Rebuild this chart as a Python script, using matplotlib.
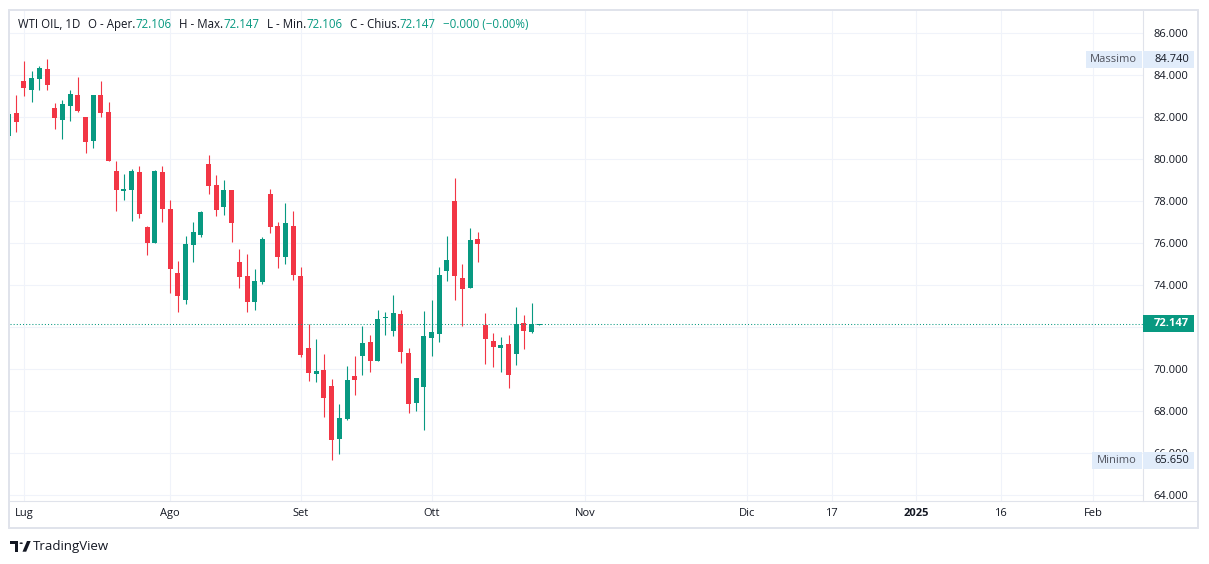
import numpy as np
import matplotlib.pyplot as plt
from matplotlib.patches import Rectangle, Circle, Polygon
from matplotlib.lines import Line2D
from matplotlib.transforms import blended_transform_factory, Bbox

# daily candles, WTI OIL 1D
opens = [81.11, 82.19, 83.71, 83.30, 83.82, 84.29, 82.43, 81.87, 82.54, 83.05,
         82.00, 80.87, 83.05, 82.24, 79.43, 78.49, 78.54, 79.38, 76.76, 76.01,
         79.38, 77.62, 74.57, 73.30, 75.92, 76.40, 79.76, 78.76, 77.73, 78.52,
         75.11, 74.43, 73.21, 74.16, 78.33, 76.81, 75.35, 76.81, 74.43, 71.00,
         69.78, 69.95, 69.19, 66.68, 67.63, 69.67, 70.62, 71.29, 70.38, 72.44,
         71.81, 72.62, 70.76, 68.38, 69.14, 71.48, 71.67, 74.67, 78.00, 74.33,
         73.86, 76.19, 72.10, 71.33, 71.01, 71.19, 70.71, 72.19, 71.76, 72.106]
highs = [82.30, 83.05, 84.67, 84.19, 84.43, 84.74, 82.67, 82.81, 83.29, 83.90,
         82.00, 83.05, 83.71, 82.71, 79.90, 79.29, 79.52, 79.67, 76.81, 79.48,
         79.67, 78.05, 75.14, 76.33, 77.00, 77.52, 80.19, 79.24, 79.00, 78.52,
         75.71, 75.48, 74.76, 76.29, 78.57, 77.00, 77.90, 77.52, 74.86, 72.14,
         71.43, 70.71, 69.52, 68.33, 70.14, 70.62, 72.05, 71.62, 72.81, 72.71,
         73.52, 72.81, 71.00, 69.57, 72.76, 73.29, 74.86, 76.33, 79.10, 75.00,
         76.71, 76.52, 72.67, 71.71, 71.52, 71.62, 72.95, 72.57, 73.14, 72.147]
lows = [80.95, 81.30, 83.02, 82.73, 83.30, 83.30, 81.44, 80.97, 81.82, 82.25,
        80.30, 80.54, 82.02, 79.92, 77.54, 78.05, 77.05, 77.21, 75.43, 76.01,
        77.02, 73.63, 72.73, 73.11, 75.11, 76.30, 78.33, 77.30, 77.35, 76.06,
        73.87, 72.73, 72.83, 74.06, 76.49, 74.82, 75.01, 74.25, 70.59, 69.43,
        69.38, 67.73, 65.65, 65.97, 67.59, 68.78, 69.71, 69.86, 70.38, 71.62,
        71.57, 70.29, 67.90, 68.00, 67.10, 70.62, 71.29, 74.19, 73.29, 72.05,
        73.86, 75.10, 70.24, 70.10, 69.86, 69.10, 70.19, 70.95, 71.71, 72.106]
closes = [82.14, 81.78, 83.40, 83.86, 84.33, 83.54, 81.97, 82.62, 83.10, 82.30,
          80.83, 83.05, 82.21, 79.92, 78.54, 78.57, 79.43, 77.40, 76.01, 79.43,
          77.63, 74.78, 73.49, 75.95, 76.52, 77.48, 78.73, 77.59, 78.52, 76.97,
          74.40, 73.17, 74.19, 76.19, 76.78, 75.35, 76.95, 74.49, 70.68, 69.82,
          69.90, 68.63, 66.63, 67.67, 69.48, 69.48, 71.24, 70.38, 72.38, 72.48,
          72.67, 70.81, 68.33, 69.57, 71.57, 71.76, 74.48, 75.19, 74.43, 73.81,
          76.14, 75.95, 71.43, 71.05, 71.14, 69.71, 72.14, 71.81, 72.14, 72.147]

time_ticks = [2, 21, 38, 55, 75, 96, 107, 118, 129, 141]
time_labels = ['Lug', 'Ago', 'Set', 'Ott', 'Nov', 'Dic', '17', '2025', '16', 'Feb']
price_ticks = [64, 66, 68, 70, 72, 74, 76, 78, 80, 82, 84, 86]
last_price = 72.147
max_price = 84.740
min_price = 65.650

UP = '#089981'
DOWN = '#f23645'
TXT = '#131722'
GRID = '#f0f3fa'
BORDER = '#e0e3eb'
TAG = '#e1ecfa'

plt.rcParams['font.family'] = ['Open Sans', 'DejaVu Sans']

W, H = 1209, 564
fig = plt.figure(figsize=(W / 100, H / 100), dpi=100)
fig.patch.set_facecolor('white')


def fx(px):
    return px / W


def fy(py):
    return 1 - py / H


ax = fig.add_axes([fx(10), fy(501), (1143 - 10) / W, (501 - 10) / H])
ax.set_facecolor('white')

x = np.arange(len(opens))
o = np.array(opens)
c = np.array(closes)
cols = [UP if cc >= oo else DOWN for oo, cc in zip(o, c)]

ax.vlines(x, lows, highs, colors=cols, lw=0.8, zorder=2)
ax.bar(x, np.maximum(np.abs(c - o), 0.05), bottom=np.minimum(o, c),
       width=0.65, color=cols, lw=0, zorder=3)

ax.axhline(last_price, color=UP, lw=0.75, linestyle=(0, (1, 2)), zorder=4)

ax.set_xlim(0.18, 147.5)
ax.set_ylim(63.714, 87.095)

ax.set_xticks(time_ticks, time_labels)
ax.set_yticks(price_ticks, ['' if p == 72 else '%.3f' % p for p in price_ticks])
ax.yaxis.tick_right()
ax.tick_params(axis='y', length=0, pad=32.4, labelsize=8, labelcolor=TXT)
ax.tick_params(axis='x', length=0, pad=5, labelsize=8, labelcolor=TXT)
for p, lab in zip(price_ticks, ax.get_yticklabels()):
    lab.set_horizontalalignment('right')
    if p == 66:
        # mostly hidden behind the "Minimo" tag, as in the original
        lab.set_clip_on(True)
        lab.set_clip_box(Bbox.from_extents(1100, H - 453.3, 1209, H))
ax.get_xticklabels()[7].set_fontweight('bold')

ax.grid(True, color=GRID, lw=0.75)
ax.set_axisbelow(True)
for s in ax.spines.values():
    s.set_visible(False)

# frame and axis separators
fig.add_artist(Rectangle((fx(9), fy(528)), (1198 - 9) / W, (528 - 10) / H,
                         transform=fig.transFigure, fill=False,
                         edgecolor=BORDER, lw=1.4))
fig.add_artist(Line2D([fx(10), fx(1198)], [fy(501), fy(501)],
                      transform=fig.transFigure, color=BORDER, lw=0.8))
fig.add_artist(Line2D([fx(1143), fx(1143)], [fy(10), fy(501)],
                      transform=fig.transFigure, color=BORDER, lw=0.8))

# price tags on the right scale
tr = blended_transform_factory(fig.transFigure, ax.transData)
hh = 0.405


def tag(x0, x1, price, face):
    fig.add_artist(Rectangle((fx(x0), price - hh), fx(x1) - fx(x0), 2 * hh,
                             transform=tr, facecolor=face, edgecolor='none',
                             zorder=3))


tag(1143.3, 1194.3, last_price, UP)
fig.text(fx(1189), last_price, '%.3f' % last_price, transform=tr, ha='right',
         va='center', fontsize=8, color='white', fontweight='bold', zorder=4)

tag(1086, 1141.7, max_price, TAG)
tag(1143.3, 1194.3, max_price, TAG)
fig.text(fx(1113.8), max_price, 'Massimo', transform=tr, ha='center',
         va='center', fontsize=8, color='#50535e', zorder=4)
fig.text(fx(1189), max_price, '%.3f' % max_price, transform=tr, ha='right',
         va='center', fontsize=8, color=TXT, zorder=4)

tag(1092.3, 1141.7, min_price, TAG)
tag(1143.3, 1194.3, min_price, TAG)
fig.text(fx(1117), min_price, 'Minimo', transform=tr, ha='center',
         va='center', fontsize=8, color='#50535e', zorder=4)
fig.text(fx(1189), min_price, '%.3f' % min_price, transform=tr, ha='right',
         va='center', fontsize=8, color=TXT, zorder=4)

# legend line at the top: pieces chained one after another
header = [('WTI OIL, 1D', TXT, 0), ('O - Aper.', TXT, 1),
          ('%.3f' % opens[-1], UP, 0), ('H - Max.', TXT, 1),
          ('%.3f' % highs[-1], UP, 0), ('L - Min.', TXT, 1),
          ('%.3f' % lows[-1], UP, 0), ('C - Chius.', TXT, 1),
          ('%.3f' % closes[-1], UP, 0), ('\u22120.000 (\u22120.00%)', UP, 1)]
renderer = fig.canvas.get_renderer()
hsize = 8.3
gap = 7.5
cur = 18.4
for s, col, g in header:
    cur += g * gap
    t = fig.text(fx(cur), fy(24.5), s, ha='left', va='center', fontsize=hsize,
                 color=col)
    cur += t.get_window_extent(renderer).width

# TradingView logo
fig.add_artist(Rectangle((fx(10), fy(544.3)), 8.3 / W, 3.3 / H,
                         transform=fig.transFigure, color=TXT, lw=0))
fig.add_artist(Rectangle((fx(15), fy(551.7)), 3.3 / W, 10.7 / H,
                         transform=fig.transFigure, color=TXT, lw=0))
fig.add_artist(Circle((fx(21.2), fy(543.2)), 1.7 / W,
                      transform=fig.transFigure, color=TXT, lw=0))
fig.add_artist(Polygon([(fx(22.5), fy(551.7)), (fx(26.2), fy(551.7)),
                        (fx(30.7), fy(541)), (fx(27), fy(541))],
                       closed=True, transform=fig.transFigure, color=TXT, lw=0))
fig.text(fx(33), fy(546.5), 'TradingView', ha='left', va='center',
         fontsize=9.5, color=TXT)

fig.savefig('out.png', dpi=100, facecolor='white')
